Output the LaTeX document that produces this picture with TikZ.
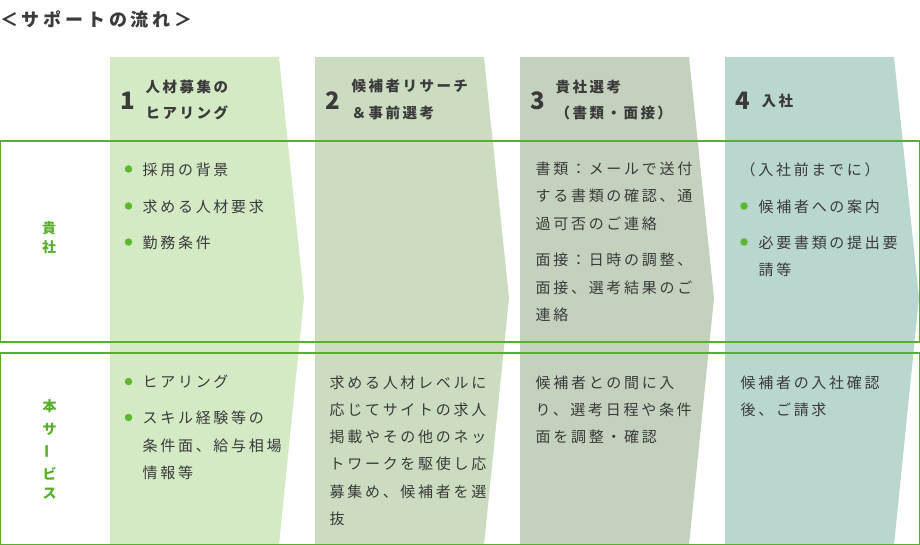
\documentclass[tikz,border=0pt]{standalone}
\usepackage{fontspec}
\setmainfont{Noto Sans CJK JP}
\newfontfamily\jpsp[LetterSpace=18]{Noto Sans CJK JP}
\newfontfamily\jphd[LetterSpace=17]{Noto Sans CJK JP}
\newfontfamily\jpti[LetterSpace=21]{Noto Sans CJK JP}
\definecolor{txt}{HTML}{3A3A3A}
\definecolor{grn}{HTML}{5AAE2F}
\definecolor{bul}{HTML}{5CB82C}
\definecolor{colA}{HTML}{D3EAC5}
\definecolor{colB}{HTML}{CCDCC0}
\definecolor{colC}{HTML}{C5D1BF}
\definecolor{colD}{HTML}{B9D6CF}
\tikzset{
  body/.style={anchor=base west, inner sep=0pt, text=txt, font=\jpsp\fontsize{15}{18}\selectfont},
  hdr/.style={anchor=base west, inner sep=0pt, text=txt, font=\jphd\bfseries\fontsize{14.5}{16}\selectfont},
  num/.style={anchor=base west, inner sep=0pt, text=txt, font=\bfseries\fontsize{24}{26}\selectfont},
  lbl/.style={anchor=base, inner sep=0pt, text=grn, font=\bfseries\fontsize{14}{16}\selectfont},
  dot/.style={circle, fill=bul, draw=none, inner sep=0pt, minimum size=7.5pt},
  rowbox/.style={draw=grn, line width=1.3pt},
}
\begin{document}
\begin{tikzpicture}[x=1pt,y=-1pt]
\useasboundingbox (0,0) rectangle (920,545);
% columns
\fill[colA] (110,57) -- (279,57) -- (304,298) -- (279,545) -- (110,545) -- cycle;
\fill[colB] (315,57) -- (484,57) -- (509,298) -- (484,545) -- (315,545) -- cycle;
\fill[colC] (520,57) -- (689,57) -- (714,298) -- (689,545) -- (520,545) -- cycle;
\fill[colD] (725,57) -- (894,57) -- (919,298) -- (894,545) -- (725,545) -- cycle;
% row boxes
\draw[rowbox] (0.65,141) rectangle (919.35,342);
\draw[rowbox] (0.65,353) rectangle (919.35,544.35);
% title
\node[anchor=base west, inner sep=0pt, text=txt, font=\jpti\bfseries\fontsize{18}{20}\selectfont] (title) at (0,26.5) {＜サポートの流れ＞};
% headers
\node[num] (n1) at (120,110) {1};
\node[hdr] (h1a) at (145.5,92.5) {人材募集の};
\node[hdr] (h1b) at (145.5,118.5) {ヒアリング};
\node[num] (n2) at (325,110) {2};
\node[hdr] (h2a) at (351.5,91.5) {候補者リサーチ};
\node[hdr] (h2b) at (351.5,118.5) {＆事前選考};
\node[num] (n3) at (530,110) {3};
\node[hdr] (h3a) at (555.5,92.5) {貴社選考};
\node[hdr] (h3b) at (555.5,118.5) {（書類・面接）};
\node[num] (n4) at (735,110) {4};
\node[hdr] (h4a) at (761.5,106.5) {入社};
% row labels
\node[lbl] (la1) at (49,233.8) {貴};
\node[lbl] (la2) at (49,252.3) {社};
\node[lbl] (lb1) at (49.5,411.3) {本};
\node[lbl] (lb2) at (49.5,434.3) {サ};
\node[text=grn, inner sep=0pt, font=\bfseries\fontsize{14}{16}\selectfont, rotate=90] (lb3) at (49.5,451) {ー};
\node[lbl] (lb4) at (49.5,479.3) {ビ};
\node[lbl] (lb5) at (49.5,498.3) {ス};
% row 1, col 1
\node[dot] (d11) at (128.5,169) {};
\node[body] (t11) at (142.5,175.7) {採用の背景};
\node[dot] (d12) at (128.5,206) {};
\node[body] (t12) at (142.5,212.7) {求める人材要求};
\node[dot] (d13) at (128.5,242) {};
\node[body] (t13) at (142.5,248.7) {勤務条件};
% row 1, col 3
\node[body] (t31) at (535.5,174.2) {書類：メールで送付};
\node[body] (t32) at (535.5,201.7) {する書類の確認、通};
\node[body] (t33) at (535.5,229.7) {過可否のご連絡};
\node[body] (t34) at (535.5,265.7) {面接：日時の調整、};
\node[body] (t35) at (535.5,293.7) {面接、選考結果のご};
\node[body] (t36) at (535.5,320.7) {連絡};
% row 1, col 4
\node[body] (t41) at (740.5,175.7) {（入社前までに）};
\node[dot] (d41) at (744,206) {};
\node[body] (t42) at (758.5,212.7) {候補者への案内};
\node[dot] (d42) at (744,242) {};
\node[body] (t43) at (758.5,248.7) {必要書類の提出要};
\node[body] (t44) at (758.5,275.7) {請等};
% row 2, col 1
\node[dot] (e11) at (128.5,381.5) {};
\node[body] (u11) at (142.5,387.7) {ヒアリング};
\node[dot] (e12) at (128.5,417.5) {};
\node[body] (u12) at (142.5,423.7) {スキル経験等の};
\node[body] (u13) at (142.5,451.7) {条件面、給与相場};
\node[body] (u14) at (142.5,478.7) {情報等};
% row 2, col 2
\node[body] (u21) at (329.5,388.7) {求める人材レベルに};
\node[body] (u22) at (329.5,415.7) {応じてサイトの求人};
\node[body] (u23) at (329.5,442.7) {掲載やその他のネッ};
\node[body] (u24) at (329.5,469.7) {トワークを駆使し応};
\node[body] (u25) at (329.5,497.7) {募集め、候補者を選};
\node[body] (u26) at (329.5,524.7) {抜};
% row 2, col 3
\node[body] (u31) at (535.5,388.7) {候補者との間に入};
\node[body] (u32) at (535.5,415.7) {り、選考日程や条件};
\node[body] (u33) at (535.5,442.7) {面を調整・確認};
% row 2, col 4
\node[body] (u41) at (740.5,388.7) {候補者の入社確認};
\node[body] (u42) at (740.5,415.7) {後、ご請求};
\end{tikzpicture}
\end{document}
